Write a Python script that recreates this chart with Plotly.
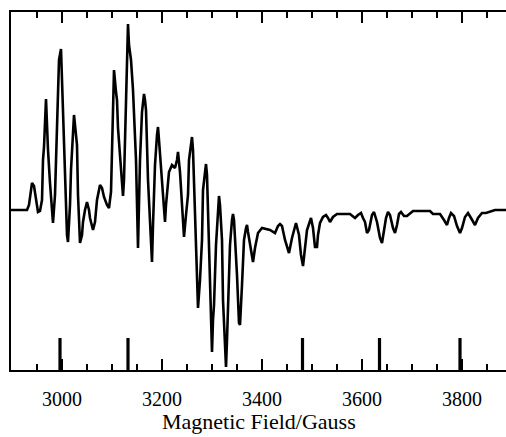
import plotly.graph_objects as go

# EPR first-derivative spectrum: magnetic field (G) vs. signal (arb. units)
field = [
    2898, 2930, 2934, 2938, 2940, 2944, 2948, 2952, 2956, 2960, 2962, 2964, 2968, 2970,
    2972, 2976, 2980, 2982, 2986, 2988, 2990, 2994, 2998, 3000, 3002, 3006, 3010, 3012,
    3016, 3018, 3020, 3024, 3026, 3030, 3032, 3036, 3040, 3042, 3046, 3050, 3054, 3056,
    3062, 3066, 3070, 3074, 3076, 3080, 3084, 3090, 3094, 3098, 3100, 3104, 3108, 3110,
    3112, 3116, 3122, 3124, 3126, 3128, 3132, 3134, 3138, 3142, 3146, 3148, 3152, 3154,
    3156, 3160, 3162, 3164, 3166, 3168, 3172, 3176, 3180, 3182, 3186, 3190, 3192, 3194,
    3200, 3204, 3206, 3208, 3210, 3214, 3220, 3226, 3230, 3232, 3236, 3240, 3244, 3248,
    3252, 3254, 3258, 3260, 3262, 3264, 3268, 3272, 3276, 3280, 3282, 3286, 3288, 3290,
    3292, 3296, 3300, 3302, 3304, 3308, 3312, 3314, 3316, 3320, 3322, 3328, 3330, 3332,
    3336, 3340, 3342, 3344, 3348, 3350, 3354, 3356, 3360, 3364, 3368, 3370, 3372, 3376,
    3380, 3382, 3386, 3392, 3400, 3408, 3416, 3426, 3432, 3436, 3440, 3446, 3454, 3460,
    3468, 3474, 3478, 3482, 3486, 3490, 3498, 3502, 3506, 3510, 3512, 3516, 3522, 3528,
    3532, 3536, 3542, 3550, 3576, 3582, 3586, 3592, 3598, 3602, 3606, 3610, 3614, 3620,
    3624, 3630, 3636, 3640, 3644, 3648, 3652, 3656, 3662, 3666, 3670, 3674, 3678, 3684,
    3690, 3696, 3702, 3736, 3742, 3750, 3756, 3764, 3770, 3774, 3778, 3784, 3790, 3796,
    3800, 3806, 3812, 3818, 3826, 3832, 3840, 3848, 3856, 3866, 3888,
]
signal = [
    0, 0, 5, 20, 27, 24, 10, -2, -1, 10, 50, 63, 111, 85,
    60, 27, -5, -13, 15, 50, 93, 150, 161, 130, 95, 35, -25, -32,
    5, 40, 60, 95, 85, 65, 15, -33, -25, -12, 0, 8, 0, -8,
    -20, -12, 10, 20, 25, 22, 13, 5, 2, 18, 60, 140, 118, 110,
    82, 52, 14, 30, 70, 112, 186, 165, 150, 120, 75, 50, -38, 10,
    50, 98, 110, 116, 110, 100, 30, -20, -52, -15, 45, 75, 83, 70,
    28, -5, -12, 5, 15, 38, 45, 42, 50, 58, 38, 5, -27, -5,
    15, 50, 70, 73, 60, 30, -35, -98, -70, -30, 20, 42, 46, 35,
    -2, -73, -142, -110, -95, -35, 5, 14, 5, -30, -90, -157, -130, -90,
    -35, -10, -4, -10, -45, -65, -113, -115, -75, -30, -18, -15, -22, -35,
    -50, -52, -38, -23, -18, -19, -20, -23, -16, -14, -16, -30, -43, -28,
    -13, -25, -45, -56, -40, -20, -8, -18, -37, -37, -25, -13, -7, -5,
    -8, -12, -7, -4, -4, -6, -8, -5, -3, -8, -12, -23, -20, -5,
    -2, -12, -28, -33, -22, -8, -2, -5, -18, -23, -15, -4, -2, -6,
    -6, -3, -1, -1, -4, -4, -4, -10, -15, -8, -3, -6, -16, -23,
    -18, -7, -3, -8, -15, -8, -3, -3, -2, 0, 0,
]

# Stick diagram of line positions (G) drawn up from the bottom of the frame
stick_fields = [2996, 3132, 3481, 3635, 3796]
stick_height = 32

x_range = [2898, 3888]
y_range = [-160, 198]
x_tickvals = [3000, 3200, 3400, 3600, 3800]
x_minor_tickvals = [2950, 3050, 3100, 3150, 3250, 3300, 3350, 3450, 3500, 3550,
                    3650, 3700, 3750, 3850]

serif = "Liberation Serif"
tick_col = "black"

stick_x, stick_y = [], []
for f in stick_fields:
    stick_x += [f, f, None]
    stick_y += [y_range[0], y_range[0] + stick_height, None]

fig = go.Figure()

fig.add_trace(go.Scatter(
    x=stick_x, y=stick_y, mode="lines",
    line=dict(color="black", width=3.2),
    showlegend=False, hoverinfo="skip",
))

fig.add_trace(go.Scatter(
    x=field, y=signal, mode="lines",
    line=dict(color="black", width=2.6),
    showlegend=False,
))

fig.update_layout(
    width=506,
    height=437,
    margin=dict(l=11, r=0, t=12, b=67),
    plot_bgcolor="white",
    paper_bgcolor="white",
    xaxis=dict(
        range=x_range,
        tickmode="array",
        tickvals=x_tickvals,
        ticks="inside",
        ticklen=11,
        tickwidth=2,
        tickcolor=tick_col,
        minor=dict(tickmode="array", tickvals=x_minor_tickvals, ticks="inside",
                   ticklen=6, tickwidth=2, tickcolor=tick_col),
        showline=True,
        linecolor="black",
        linewidth=2,
        mirror="allticks",
        showgrid=False,
        zeroline=False,
        tickfont=dict(family=serif, size=20, color="black"),
        ticklabelstandoff=10,
    ),
    yaxis=dict(
        range=y_range,
        showline=True,
        linecolor="black",
        linewidth=2,
        showticklabels=False,
        showgrid=False,
        zeroline=False,
    ),
    annotations=[dict(
        text="Magnetic Field/Gauss",
        xref="paper", yref="paper",
        x=0.5, y=-0.184,
        xanchor="center", yanchor="bottom",
        showarrow=False,
        font=dict(family=serif, size=22, color="black"),
    )],
)

fig.write_html("out.html")
